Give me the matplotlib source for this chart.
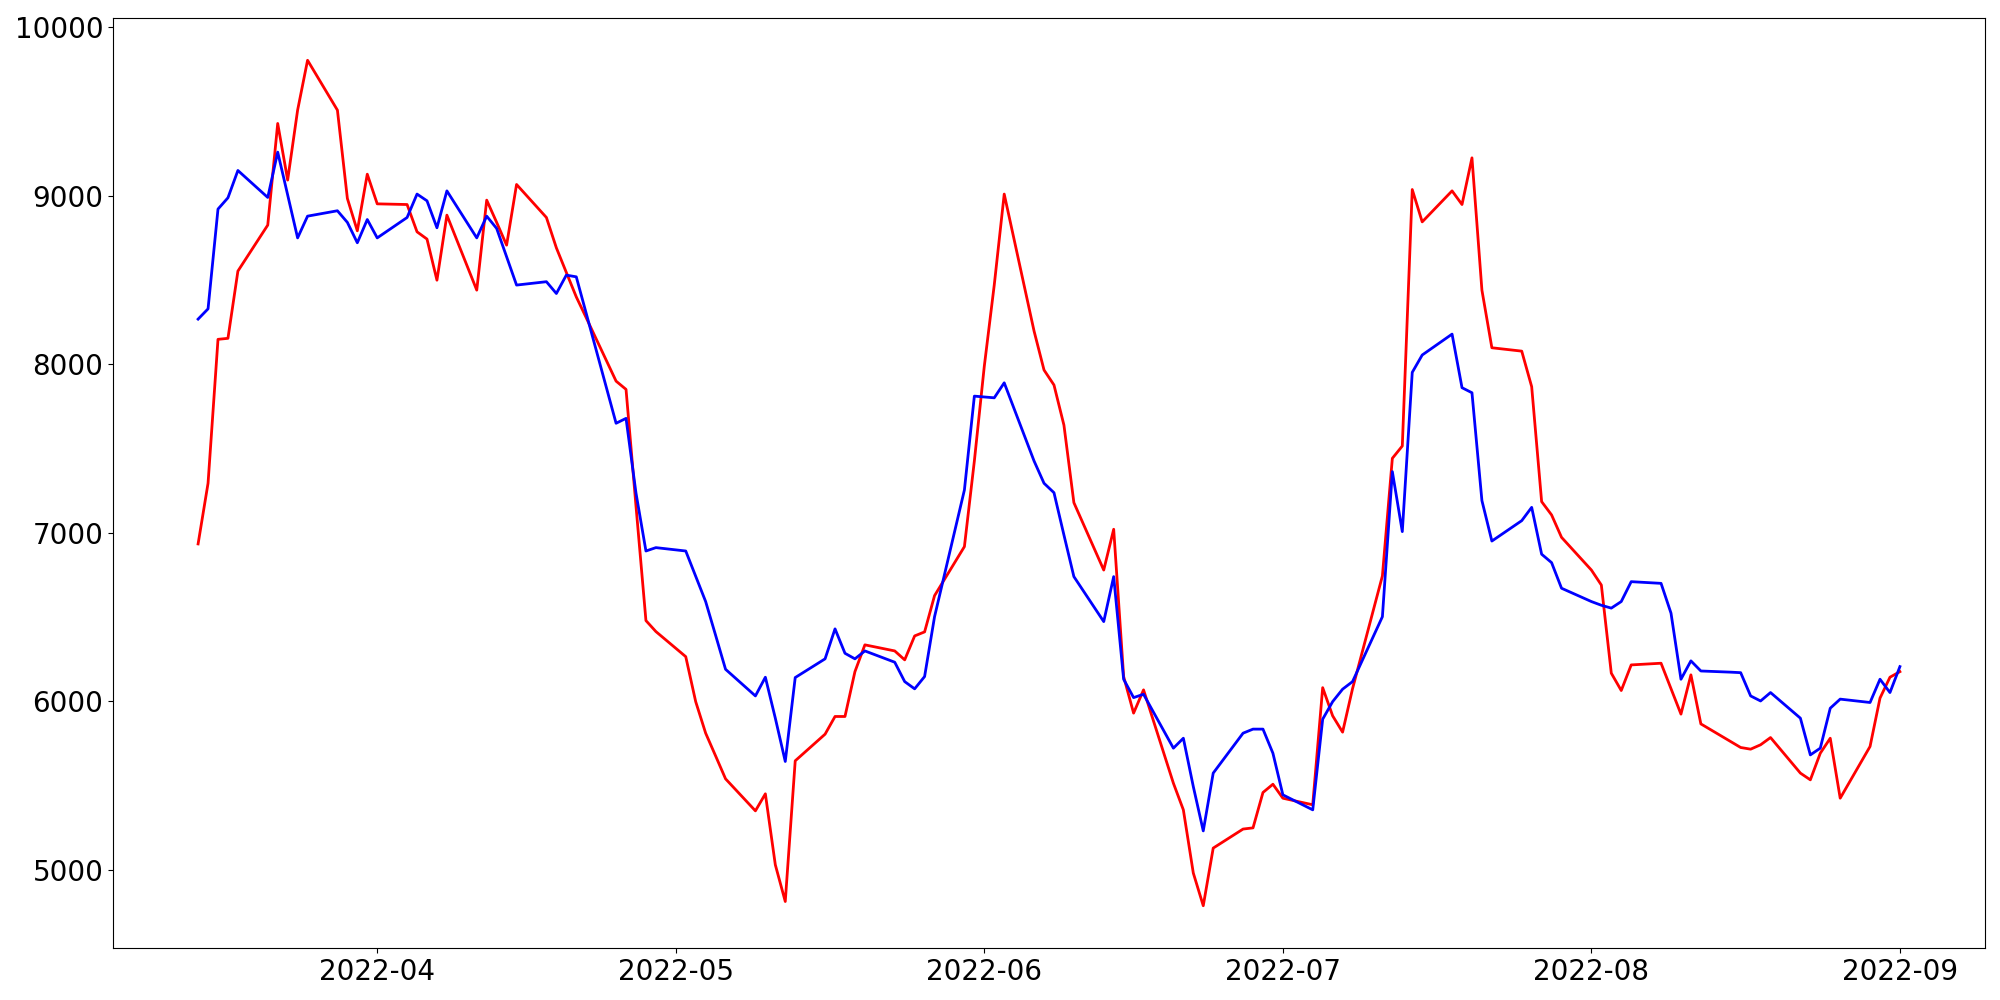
import matplotlib
matplotlib.use("Agg")
import matplotlib.pyplot as plt
import pandas as pd
import numpy as np

dates = pd.bdate_range("2022-03-14", "2022-09-01")

red_values = [
    6934, 7294, 8148, 8154, 8553,
    8826, 9429, 9093, 9508, 9804,
    9508, 8984, 8792, 9128, 8952,
    8948, 8786, 8743, 8499, 8885,
    8440, 8974, 8842, 8707, 9067,
    8871, 8691, 8545, 8400, 8276,
    7900, 7851, 7159, 6479, 6414,
    6265, 5998, 5811, 5676, 5540,
    5350, 5451, 5030, 4812, 5647,
    5805, 5910, 5910, 6176, 6335,
    6299, 6246, 6388, 6412, 6627,
    6918, 7426, 7989, 8471, 9010,
    8197, 7966, 7877, 7639, 7179,
    6779, 7021, 6147, 5930, 6068,
    5514, 5356, 4981, 4787, 5129,
    5242, 5249, 5459, 5508, 5425,
    5386, 6081, 5914, 5817, 6075,
    6744, 7442, 7515, 9037, 8845,
    9029, 8948, 9225, 8440, 8098,
    8078, 7867, 7185, 7106, 6973,
    6779, 6690, 6167, 6064, 6216,
    6226, 6075, 5924, 6157, 5866,
    5761, 5726, 5716, 5742, 5785,
    5574, 5534, 5692, 5781, 5425,
    5732, 6019, 6143, 6176,
]

blue_values = [
    8268, 8329, 8921, 8988, 9150,
    8990, 9259, 9005, 8750, 8879,
    8911, 8842, 8721, 8859, 8750,
    8871, 9010, 8970, 8810, 9029,
    8750, 8879, 8806, 8638, 8470,
    8490, 8420, 8529, 8519, 8302,
    7650, 7679, 7236, 6892, 6912,
    6892, 6742, 6592, 6392, 6190,
    6032, 6143, 5900, 5643, 6141,
    6252, 6430, 6285, 6252, 6299,
    6232, 6117, 6074, 6147, 6502,
    7254, 7811, 7806, 7801, 7890,
    7426, 7294, 7238, 6987, 6740,
    6473, 6740, 6131, 6022, 6042,
    5722, 5781, 5494, 5231, 5574,
    5811, 5835, 5835, 5692, 5445,
    5356, 5894, 5998, 6072, 6117,
    6502, 7363, 7007, 7952, 8055,
    8179, 7861, 7831, 7191, 6951,
    7072, 7151, 6873, 6823, 6671,
    6592, 6570, 6553, 6592, 6710,
    6700, 6523, 6131, 6240, 6180,
    6173, 6170, 6032, 6002, 6052,
    5900, 5682, 5722, 5959, 6013,
    5993, 6131, 6052, 6206,
]

fig = plt.figure(figsize=(20, 10), dpi=100)
ax = fig.add_axes([0.0565, 0.052, 0.936, 0.930])
ax.plot(dates, red_values, color="red", linewidth=2.0)
ax.plot(dates, blue_values, color="blue", linewidth=2.0)
ax.tick_params(axis="both", labelsize=20)
fig.savefig("out.png", dpi=100)
